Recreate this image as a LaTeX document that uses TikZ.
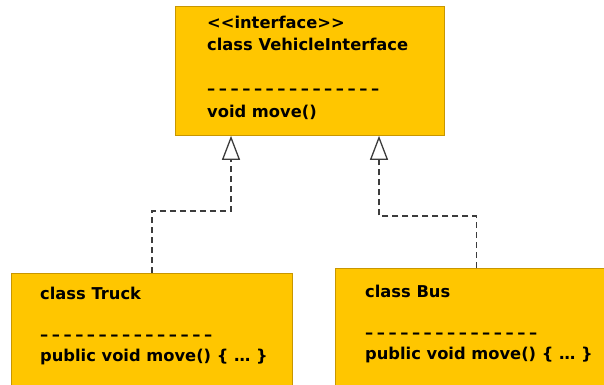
\documentclass[tikz,border=0pt]{standalone}
\usepackage{fontspec}
\setmainfont{DejaVu Sans}
\usepackage{xcolor}
\usetikzlibrary{arrows.meta}

\definecolor{classfill}{RGB}{255,198,0}
\definecolor{classedge}{RGB}{200,150,0}
\definecolor{linkgray}{RGB}{60,60,60}

\newcommand{\sepline}{\foreach \i in {1,...,15}{\makebox[11.7pt][l]{–}}}

\begin{document}
\begin{tikzpicture}[x=1pt,y=-1pt,
    classbox/.style={rectangle,fill=classfill,draw=classedge,line width=0.8pt,anchor=north west,inner sep=0pt},
    classtext/.style={anchor=north west,inner sep=0pt,align=left,font=\bfseries\fontsize{16.3}{22}\selectfont},
    realize/.style={dashed,dash pattern=on 6pt off 4pt,line width=1.3pt,draw=linkgray,
      -{Triangle[open,length=24pt,width=18pt,fill=white]}}]
    \useasboundingbox (0,0) rectangle (604,384);
    \node[classbox,minimum width=269pt,minimum height=129pt] (iface) at (175,6) {};
    \node[classbox,minimum width=281pt,minimum height=130pt] (truck) at (11,273) {};
    \node[classbox,minimum width=282pt,minimum height=130pt] (bus) at (335,268) {};
    \node[classtext] (ifacetxt) at (207,16) {<{}<interface>{}>\\class VehicleInterface\\[22pt]\sepline\\[1pt]void move()};
    \node[classtext,font=\bfseries\fontsize{16.3}{20.5}\selectfont] (trucktxt) at (40,287) {class Truck\\[20.5pt]\sepline\\public void move() \{ … \}};
    \node[classtext,font=\bfseries\fontsize{16.3}{20.5}\selectfont] (bustxt) at (365,285) {class Bus\\[20.5pt]\sepline\\public void move() \{ … \}};
    \draw[realize] (truck.north) -- ++(0,-62) -| (231,0 |- iface.south);
    \draw[realize] (bus.north) -- ++(0,-52) -| (379,0 |- iface.south);
  \end{tikzpicture}
\end{document}
